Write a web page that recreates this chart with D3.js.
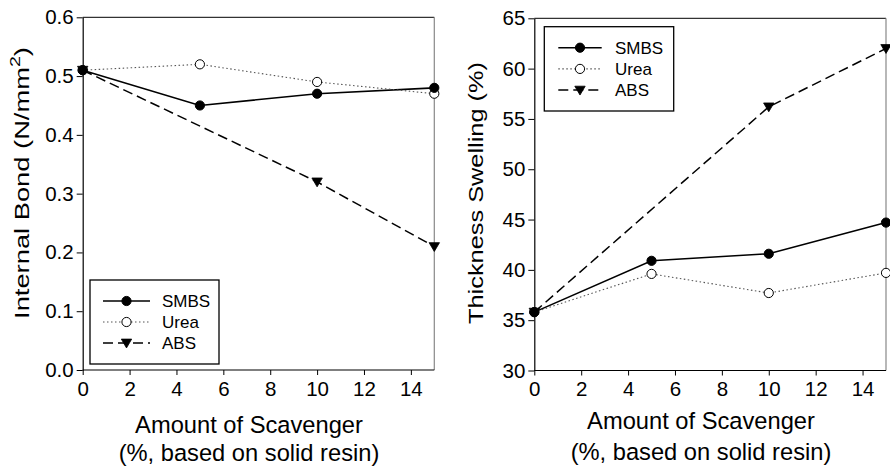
<!DOCTYPE html>
<html><head><meta charset="utf-8">
<script src="https://cdn.jsdelivr.net/npm/d3@7/dist/d3.min.js"></script>
<style>body{margin:0;background:#fff}svg{display:block;font-family:"Liberation Sans",Arial,sans-serif}</style>
</head><body><svg id="c" width="890" height="469"></svg>
<script>
const amounts = [0, 5, 10, 15];
const absAmounts = [0, 10, 15];
const ibSMBS = [0.51, 0.45, 0.47, 0.48];
const ibUrea = [0.51, 0.52, 0.49, 0.47];
const ibABS = [0.51, 0.32, 0.21];
const tsSMBS = [35.8, 40.9, 41.6, 44.7];
const tsUrea = [35.8, 39.6, 37.7, 39.7];
const tsABS = [35.8, 56.2, 62.0];
const xTicks = [0, 2, 4, 6, 8, 10, 12, 14];
const ibTicks = [0.0, 0.1, 0.2, 0.3, 0.4, 0.5, 0.6];
const tsTicks = [30, 35, 40, 45, 50, 55, 60, 65];
const seriesNames = ["SMBS", "Urea", "ABS"];

const svg = d3.select("#c");
const styles = {
  SMBS: {stroke: "#000", width: 1.6, dash: null, marker: "circle", fill: "#000"},
  Urea: {stroke: "#555", width: 1.1, dash: "1.5,2.5", marker: "circle", fill: "#fff"},
  ABS:  {stroke: "#000", width: 1.5, dash: "10,5", marker: "tri", fill: "#000"}
};

function marker(g, type, fill, x, y) {
  if (type === "circle") {
    g.append("circle").attr("cx", x).attr("cy", y).attr("r", 4.6)
      .attr("fill", fill).attr("stroke", "#000").attr("stroke-width", 1);
  } else {
    const s = 5.2;
    g.append("path").attr("d", `M${x - s},${y - s * 0.75}L${x + s},${y - s * 0.75}L${x},${y + s * 0.95}Z`)
      .attr("fill", fill).attr("stroke", "#000").attr("stroke-width", 0.8);
  }
}

function panel(opt) {
  const x = d3.scaleLinear().domain([0, 15]).range([opt.x0, opt.x1]);
  const y = d3.scaleLinear().domain(opt.yDomain).range([opt.yb, opt.yt]);
  const g = svg.append("g");
  g.append("line").attr("x1", opt.x0).attr("x2", opt.x1).attr("y1", opt.yt).attr("y2", opt.yt)
    .attr("stroke", "#000").attr("stroke-width", 1);
  g.append("line").attr("x1", opt.x1).attr("x2", opt.x1).attr("y1", opt.yt).attr("y2", opt.yb)
    .attr("stroke", "#888").attr("stroke-width", 1.2);
  const xa = g.append("g").attr("transform", `translate(0,${opt.yb})`)
    .call(d3.axisBottom(x).tickValues(xTicks).tickSize(5).tickSizeOuter(0).tickPadding(6).tickFormat(d3.format("d")));
  const ya = g.append("g").attr("transform", `translate(${opt.x0},0)`)
    .call(d3.axisLeft(y).tickValues(opt.yTicks).tickSize(6).tickSizeOuter(0).tickPadding(3).tickFormat(opt.fmt));
  [xa, ya].forEach(a => {
    a.select(".domain").attr("stroke", "#000").attr("stroke-width", 1.2);
    a.selectAll(".tick line").attr("stroke", "#000").attr("stroke-width", 1);
    a.selectAll("text").attr("font-size", 20.5).attr("fill", "#000").attr("font-family", "Liberation Sans, Arial, sans-serif");
  });
  xa.select(".domain").attr("d", `M${opt.x0},0H${opt.x1}`);
  opt.series.forEach(s => {
    const st = styles[s.name];
    const pts = s.xs.map((v, i) => [x(v), y(s.ys[i])]);
    g.append("path").attr("d", d3.line()(pts)).attr("fill", "none")
      .attr("stroke", st.stroke).attr("stroke-width", st.width)
      .attr("stroke-dasharray", st.dash);
  });
  opt.series.slice().reverse().forEach(s => {
    const st = styles[s.name];
    s.xs.forEach((v, i) => marker(g, st.marker, st.fill, x(v), y(s.ys[i])));
  });
  const L = opt.legend;
  g.append("rect").attr("x", L.x).attr("y", L.y).attr("width", L.w).attr("height", L.h)
    .attr("fill", "#fff").attr("stroke", "#000").attr("stroke-width", 1.3);
  seriesNames.forEach((n, i) => {
    const st = styles[n];
    const yy = L.y + L.r0 + i * L.dy;
    g.append("line").attr("x1", L.x + L.l0).attr("x2", L.x + L.l1).attr("y1", yy).attr("y2", yy)
      .attr("stroke", st.stroke).attr("stroke-width", st.width).attr("stroke-dasharray", st.dash);
    marker(g, st.marker, st.fill, L.x + (L.l0 + L.l1) / 2, yy);
    g.append("text").attr("x", L.x + L.tx).attr("y", yy + 6).attr("font-size", 17).text(n);
  });
  g.append("text").attr("x", opt.xtx).attr("y", opt.xty1).attr("text-anchor", "middle")
    .attr("font-size", 23.7).text("Amount of Scavenger");
  g.append("text").attr("x", opt.xtx).attr("y", opt.xty2).attr("text-anchor", "middle")
    .attr("font-size", 23.7).text("(%, based on solid resin)");
  const yg = g.append("g").attr("transform", `translate(${opt.ytx},${opt.yty}) rotate(-90)`);
  const yt = yg.append("text").attr("text-anchor", "middle").attr("font-size", 19.5);
  opt.ytitle(yt);
  const len = yt.node().getBBox().width;
  yt.attr("transform", `scale(${opt.ylen / len},1)`);
}

panel({
  x0: 82.7, x1: 434.3, yb: 370, yt: 17.3, yDomain: [0, 0.6], yTicks: ibTicks, fmt: d3.format(".1f"),
  series: [
    {name: "SMBS", xs: amounts, ys: ibSMBS},
    {name: "Urea", xs: amounts, ys: ibUrea},
    {name: "ABS", xs: absAmounts, ys: ibABS}
  ],
  legend: {x: 90, y: 280, w: 129, h: 84, r0: 21, dy: 21, l0: 13, l1: 60, tx: 72},
  xtx: 249, xty1: 433, xty2: 461, ytx: 28.5, yty: 183, ylen: 272,
  ytitle: t => { t.append("tspan").text("Internal Bond (N/mm");
                 t.append("tspan").attr("dy", -9).attr("font-size", 14).text("2");
                 t.append("tspan").attr("dy", 9).text(")"); }
});
panel({
  x0: 534.3, x1: 886, yb: 370.5, yt: 18.3, yDomain: [30, 65], yTicks: tsTicks, fmt: d3.format("d"),
  series: [
    {name: "SMBS", xs: amounts, ys: tsSMBS},
    {name: "Urea", xs: amounts, ys: tsUrea},
    {name: "ABS", xs: absAmounts, ys: tsABS}
  ],
  legend: {x: 544.3, y: 26.7, w: 129.4, h: 84.3, r0: 21, dy: 21.2, l0: 14, l1: 57.4, tx: 70.7},
  xtx: 701, xty1: 429, xty2: 460, ytx: 483, yty: 193, ylen: 262,
  ytitle: t => { t.text("Thickness Swelling (%)"); }
});
</script></body></html>
